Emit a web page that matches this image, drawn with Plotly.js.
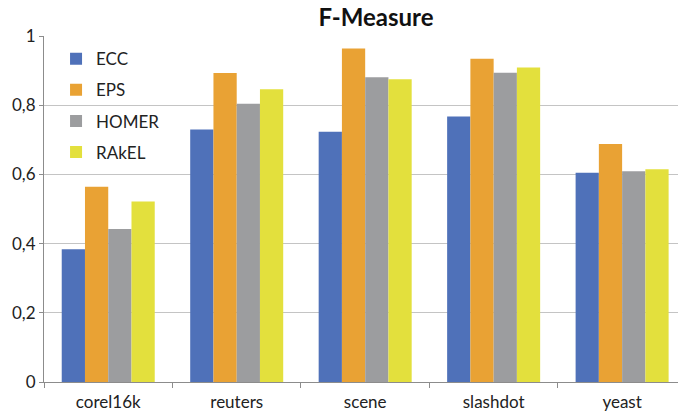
<!DOCTYPE html>
<html>
<head>
<meta charset="utf-8">
<script src="https://cdn.plot.ly/plotly-3.0.1.min.js"></script>
<style>html,body{margin:0;padding:0;background:#fff;}#chart{width:678px;height:415px;}</style>
</head>
<body>
<div id="chart"></div>
<script>
const categories = ["corel16k", "reuters", "scene", "slashdot", "yeast"];
const seriesNames = ["ECC", "EPS", "HOMER", "RAkEL"];
const ecc   = [0.384, 0.730, 0.723, 0.767, 0.605];
const eps   = [0.564, 0.893, 0.964, 0.934, 0.688];
const homer = [0.442, 0.804, 0.881, 0.894, 0.609];
const rakel = [0.522, 0.846, 0.875, 0.909, 0.615];
const colors = ["#4F71B9", "#E9A234", "#9C9D9F", "#E3E03D"];

const values = [ecc, eps, homer, rakel];
const traces = values.map((v, i) => ({
  type: "bar",
  name: seriesNames[i],
  x: categories,
  y: v,
  marker: {color: colors[i], line: {width: 0}},
  legendgroup: "g" + i,
  hoverinfo: "x+y+name"
}));

const font = "Lato, 'Open Sans', 'Liberation Sans', sans-serif";
const layout = {
  width: 678,
  height: 415,
  margin: {l: 44, r: 0, t: 36, b: 33, pad: 0},
  paper_bgcolor: "#ffffff",
  plot_bgcolor: "#ffffff",
  separators: ",.",
  font: {family: font, size: 17, color: "#222"},
  title: {
    text: "<b>F-Measure</b>",
    font: {family: font, size: 24, color: "#111"},
    x: 376/678, xanchor: "center",
    y: 1 - 18/415, yanchor: "middle", yref: "container"
  },
  barmode: "group",
  bargap: 0.276,
  bargroupgap: 0,
  showlegend: true,
  legend: {
    x: 0.019, xanchor: "left",
    y: 0.985, yanchor: "top",
    bgcolor: "rgba(0,0,0,0)",
    font: {family: font, size: 17, color: "#222"},
    tracegroupgap: 6,
    traceorder: "grouped"
  },
  xaxis: {
    type: "category",
    range: [-0.5, 4.435],
    showgrid: false,
    showline: true,
    linecolor: "#8c8c8c",
    linewidth: 1,
    ticks: "outside",
    tickson: "boundaries",
    ticklen: 5,
    tickcolor: "#8c8c8c",
    ticklabelstandoff: 5,
    tickfont: {family: font, size: 17, color: "#222"},
    fixedrange: true
  },
  yaxis: {
    range: [0, 1],
    dtick: 0.2,
    tick0: 0,
    showgrid: true,
    gridcolor: "#c4c4c4",
    gridwidth: 1,
    zeroline: false,
    showline: true,
    linecolor: "#8c8c8c",
    linewidth: 1,
    ticks: "outside",
    ticklen: 4,
    tickcolor: "#8c8c8c",
    tickfont: {family: font, size: 17, color: "#222"},
    fixedrange: true
  }
};

Plotly.newPlot("chart", traces, layout, {displayModeBar: false, staticPlot: true});
</script>
</body>
</html>
